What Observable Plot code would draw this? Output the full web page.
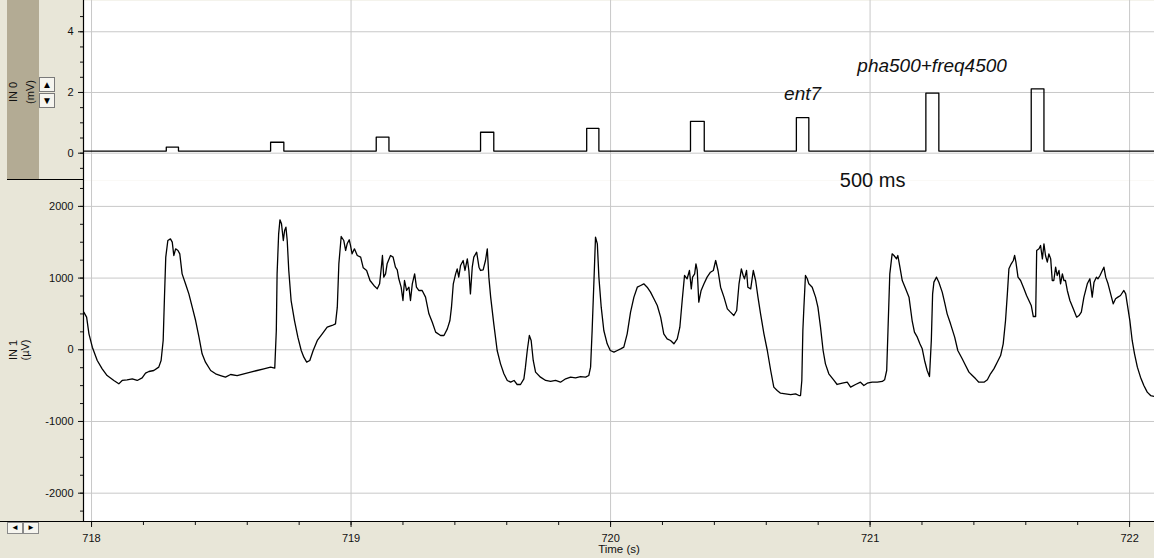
<!DOCTYPE html>
<html>
<head>
<meta charset="utf-8">
<script src="https://cdn.jsdelivr.net/npm/d3@7"></script>
<script src="https://cdn.jsdelivr.net/npm/@observablehq/plot@0.6"></script>
<style>
html, body { margin: 0; padding: 0; background: #fff; }
#wrap { position: relative; width: 1154px; height: 558px; background: #E8E6D8; overflow: hidden; font-family: "Liberation Sans", Arial, sans-serif; }
#strip { position: absolute; left: 7px; top: 0; width: 32px; height: 179px; background: #B3AB94; }
#sep { position: absolute; left: 7px; top: 179px; width: 77px; height: 1px; background: #000; }
#xline { position: absolute; left: 0; top: 521px; width: 84px; height: 1px; background: #000; }
#top, #bot { position: absolute; left: 0; }
#top { top: 0; }
#bot { top: 180px; }
.ylab { position: absolute; transform: translate(-50%, -50%) rotate(-90deg); text-align: center; font-size: 11px; color: #111; white-space: nowrap; }
.spin { position: absolute; width: 15px; }
.spin div { width: 14px; height: 13px; border: 1px solid #7a7a7a; background: #F6F5EF; font-size: 10px; line-height: 13px; text-align: center; color: #000; margin-bottom: 1px; }
.nav { position: absolute; left: 7px; top: 522px; display: flex; }
.nav div { width: 14px; height: 10px; border: 1px solid #8a8a8a; background: #F6F5EF; font-size: 8px; line-height: 10px; text-align: center; color: #000; }
</style>
</head>
<body>
<div id="wrap">
  <div id="strip"></div>
  <div id="top"></div>
  <div id="bot"></div>
  <div id="sep"></div>
  <div id="xline"></div>
  <div class="ylab" style="left:22px; top:92px; line-height:17px;">IN 0<br>(mV)</div>
  <div class="ylab" style="left:19px; top:350px; line-height:12px;">IN 1<br>(µV)</div>
  <div class="spin" style="left:39px; top:77px;"><div>▲</div><div>▼</div></div>
  <div class="nav"><div>◄</div><div>►</div></div>
</div>
<script>
// ---------- data ----------
// x range shown (s)
const timeDomain = [717.969, 722.096];
const timeTicks = [718, 719, 720, 721, 722];

// IN 0 (mV): stimulus pulses
const in0Domain = [-0.90, 5.03];
const in0Ticks = [0, 2, 4];
const in0Baseline = 0.07;
const pulseOn  = [718.288, 718.690, 719.097, 719.499, 719.908, 720.308, 720.716, 721.215, 721.621];
const pulseOff = [718.335, 718.741, 719.146, 719.550, 719.955, 720.361, 720.764, 721.265, 721.670];
const pulseAmp = [0.20, 0.36, 0.53, 0.69, 0.82, 1.05, 1.17, 1.98, 2.12];

// IN 1 (µV): recorded trace
const in1Domain = [-2395, 2361];
const in1Ticks = [-2000, -1000, 0, 1000, 2000];
const timeSec = [
  717.970, 717.981, 717.990, 718.003, 718.022, 718.041, 718.060, 718.086, 718.105, 718.118,
  718.137, 718.157, 718.176, 718.195, 718.208, 718.221, 718.240, 718.259, 718.268, 718.276,
  718.281, 718.286, 718.294, 718.304, 718.311, 718.317, 718.324, 718.333, 718.340, 718.349,
  718.362, 718.375, 718.388, 718.401, 718.414, 718.426, 718.439, 718.459, 718.478, 718.497,
  718.516, 718.536, 718.561, 718.587, 718.613, 718.638, 718.664, 718.690, 718.706, 718.712,
  718.715, 718.721, 718.726, 718.732, 718.739, 718.744, 718.749, 718.754, 718.760, 718.769,
  718.782, 718.795, 718.808, 718.818, 718.829, 718.841, 718.854, 718.870, 718.889, 718.908,
  718.927, 718.940, 718.947, 718.953, 718.962, 718.972, 718.979, 718.985, 718.993, 718.998,
  719.004, 719.013, 719.024, 719.037, 719.047, 719.060, 719.073, 719.088, 719.101, 719.110,
  719.118, 719.121, 719.126, 719.133, 719.139, 719.152, 719.162, 719.171, 719.178, 719.184,
  719.193, 719.200, 719.206, 719.214, 719.223, 719.229, 719.236, 719.245, 719.252, 719.261,
  719.274, 719.287, 719.300, 719.313, 719.326, 719.345, 719.358, 719.371, 719.381, 719.387,
  719.394, 719.403, 719.409, 719.415, 719.422, 719.432, 719.439, 719.448, 719.454, 719.460,
  719.467, 719.473, 719.484, 719.493, 719.499, 719.509, 719.518, 719.525, 719.531, 719.538,
  719.550, 719.563, 719.576, 719.589, 719.602, 719.615, 719.628, 719.640, 719.653, 719.666,
  719.672, 719.679, 719.687, 719.694, 719.702, 719.711, 719.730, 719.750, 719.769, 719.788,
  719.807, 719.827, 719.846, 719.865, 719.884, 719.904, 719.916, 719.923, 719.929, 719.936,
  719.942, 719.949, 719.955, 719.964, 719.974, 719.987, 719.999, 720.013, 720.026, 720.039,
  720.051, 720.064, 720.077, 720.090, 720.103, 720.116, 720.128, 720.141, 720.154, 720.167,
  720.180, 720.193, 720.205, 720.218, 720.231, 720.244, 720.257, 720.267, 720.276, 720.285,
  720.295, 720.304, 720.311, 720.316, 720.324, 720.329, 720.334, 720.340, 720.349, 720.360,
  720.372, 720.385, 720.396, 720.405, 720.414, 720.424, 720.437, 720.450, 720.462, 720.475,
  720.486, 720.495, 720.504, 720.511, 720.516, 720.524, 720.529, 720.540, 720.550, 720.559,
  720.568, 720.578, 720.591, 720.604, 720.617, 720.629, 720.642, 720.655, 720.674, 720.694,
  720.713, 720.726, 720.732, 720.737, 720.741, 720.745, 720.751, 720.758, 720.764, 720.777,
  720.790, 720.799, 720.809, 720.819, 720.828, 720.841, 720.861, 720.873, 720.893, 720.912,
  720.925, 720.944, 720.963, 720.976, 720.989, 721.008, 721.028, 721.047, 721.056, 721.064,
  721.069, 721.076, 721.085, 721.092, 721.102, 721.107, 721.115, 721.124, 721.137, 721.150,
  721.162, 721.171, 721.182, 721.192, 721.201, 721.210, 721.220, 721.229, 721.236, 721.241,
  721.246, 721.256, 721.265, 721.278, 721.287, 721.297, 721.310, 721.326, 721.338, 721.355,
  721.368, 721.381, 721.394, 721.407, 721.419, 721.439, 721.452, 721.464, 721.477, 721.490,
  721.503, 721.513, 721.522, 721.529, 721.535, 721.544, 721.552, 721.557, 721.562, 721.570,
  721.580, 721.593, 721.603, 721.612, 721.621, 721.629, 721.638, 721.642, 721.651, 721.657,
  721.664, 721.670, 721.676, 721.683, 721.689, 721.696, 721.702, 721.708, 721.715, 721.721,
  721.728, 721.734, 721.741, 721.747, 721.753, 721.760, 721.770, 721.783, 721.796, 721.805,
  721.814, 721.824, 721.837, 721.847, 721.856, 721.863, 721.872, 721.878, 721.886, 721.895,
  721.901, 721.908, 721.917, 721.927, 721.937, 721.946, 721.955, 721.965, 721.978, 721.985,
  721.991, 722.001, 722.010, 722.019, 722.030, 722.042, 722.055, 722.068, 722.081, 722.096
];
const in1uV = [
  525, 455, 222, 36, -149, -266, -359, -428, -475, -428,
  -419, -405, -428, -391, -326, -303, -289, -242, -149, 130,
  734, 1292, 1524, 1547, 1501, 1315, 1408, 1385, 1338, 1059,
  920, 780, 594, 408, 176, -57, -173, -289, -335, -359,
  -382, -345, -359, -335, -312, -289, -266, -242, -256, 269,
  1059, 1617, 1812, 1757, 1524, 1664, 1710, 1524, 1106, 687,
  408, 176, -10, -103, -173, -149, -10, 130, 222, 315,
  339, 362, 594, 1199, 1580, 1524, 1385, 1478, 1534, 1454,
  1338, 1408, 1315, 1292, 1143, 1106, 966, 897, 850, 920,
  1199, 1315, 1013, 1059, 1199, 1315, 1292, 1152, 1115, 990,
  873, 687, 966, 827, 873, 687, 920, 1059, 873, 827,
  827, 734, 501, 385, 246, 199, 199, 292, 408, 594,
  920, 1059, 1129, 1013, 1176, 1245, 1106, 1268, 1106, 780,
  1152, 1292, 1361, 1152, 1106, 1115, 1245, 1408, 1013, 734,
  362, -10, -196, -335, -428, -452, -428, -484, -484, -405,
  -242, -10, 199, 130, -149, -312, -382, -428, -442, -428,
  -452, -405, -382, -391, -373, -382, -359, -242, 269, 966,
  1571, 1478, 1013, 594, 269, 83, -10, -33, -10, 13,
  37, 222, 525, 734, 873, 897, 920, 873, 804, 711,
  618, 455, 222, 153, 130, 83, 153, 315, 687, 1036,
  990, 1106, 850, 1013, 1059, 1199, 1106, 664, 827, 920,
  1013, 1082, 1106, 1245, 1106, 873, 734, 571, 525, 478,
  548, 920, 1129, 1036, 990, 1106, 873, 850, 1106, 966,
  734, 501, 222, -10, -289, -521, -568, -605, -614, -624,
  -614, -638, -638, -428, 269, 594, 1036, 990, 920, 873,
  734, 594, 315, -10, -196, -335, -428, -484, -466, -452,
  -521, -484, -452, -498, -466, -452, -452, -442, -419, -289,
  269, 1059, 1338, 1315, 1268, 1315, 1152, 966, 850, 734,
  408, 246, 176, 83, 13, -149, -289, -373, 130, 780,
  943, 1013, 943, 804, 664, 501, 362, 176, -10, -126,
  -219, -312, -359, -405, -452, -452, -419, -335, -266, -173,
  -80, 83, 408, 780, 1129, 1199, 1245, 1315, 1222, 1013,
  966, 850, 757, 687, 618, 464, 464, 1385, 1408, 1454,
  1268, 1478, 1315, 1222, 1338, 1268, 966, 966, 1152, 1036,
  1106, 920, 1059, 966, 966, 827, 687, 571, 455, 478,
  525, 734, 920, 990, 734, 943, 1013, 990, 1036, 1106,
  1152, 1013, 920, 780, 641, 711, 734, 757, 827, 780,
  641, 408, 130, -57, -242, -382, -498, -591, -638, -652
];

// annotations
const notes0 = [
  {t: 720.740, v: 1.955, label: "ent7"},
  {t: 721.239, v: 2.88, label: "pha500+freq4500"}
];
const notes1 = [{t: 721.010, v: 2360, label: "500 ms"}];

// ---------- derived tables ----------
const trace = d3.zip(timeSec, in1uV).map(([t, v]) => ({t, v}));
const pulseLine = [{t: timeDomain[0], v: in0Baseline}];
pulseOn.forEach((on, i) => {
  pulseLine.push({t: on, v: in0Baseline}, {t: on, v: pulseAmp[i]},
                 {t: pulseOff[i], v: pulseAmp[i]}, {t: pulseOff[i], v: in0Baseline});
});
pulseLine.push({t: timeDomain[1], v: in0Baseline});

const grid = "#c8c8c8";
const fmt = d => String(d);
const baseStyle = {background: "transparent", overflow: "visible", fontFamily: "'Liberation Sans', Arial, sans-serif", fontSize: "11px", color: "#111"};
const minorX = d3.range(718, 722.05, 0.2);

// ---------- top panel ----------
const topPlot = Plot.plot({
  width: 1154, height: 180,
  marginLeft: 83, marginRight: 0, marginTop: 0, marginBottom: 0,
  style: baseStyle,
  x: {domain: timeDomain, axis: null},
  y: {domain: in0Domain, axis: null},
  marks: [
    Plot.frame({fill: "white", stroke: null}),
    Plot.ruleX(timeTicks, {stroke: grid}),
    Plot.ruleY(in0Ticks, {stroke: grid}),
    Plot.line(pulseLine, {x: "t", y: "v", stroke: "#000", strokeWidth: 1.3, curve: "linear"}),
    Plot.axisY({ticks: in0Ticks, tickSize: 5, tickPadding: 5, tickFormat: fmt, label: null}),
    Plot.axisY({ticks: d3.range(-0.5, 5, 0.5), tickSize: 3, text: null, label: null}),
    Plot.ruleX([timeDomain[0]], {stroke: "#000", strokeWidth: 1.2}),
    Plot.text(notes0, {x: "t", y: "v", text: "label", fontSize: 19, fontStyle: "italic", fill: "#111"})
  ]
});
document.getElementById("top").append(topPlot);

// ---------- bottom panel ----------
const botPlot = Plot.plot({
  width: 1154, height: 378,
  marginLeft: 83, marginRight: 0, marginTop: 0, marginBottom: 37,
  style: baseStyle,
  x: {domain: timeDomain, axis: null},
  y: {domain: in1Domain, axis: null},
  marks: [
    Plot.frame({fill: "white", stroke: null}),
    Plot.ruleX(timeTicks, {stroke: grid}),
    Plot.ruleY(in1Ticks, {stroke: grid}),
    Plot.line(trace, {x: "t", y: "v", stroke: "#000", strokeWidth: 1.3, curve: "linear"}),
    Plot.axisY({ticks: in1Ticks, tickSize: 5, tickPadding: 5, tickFormat: fmt, label: null}),
    Plot.axisY({ticks: d3.range(-2250, 2400, 250), tickSize: 3, text: null, label: null}),
    Plot.axisX({ticks: timeTicks, tickSize: 6, tickPadding: 7, tickFormat: fmt, label: null}),
    Plot.axisX({ticks: minorX, tickSize: 4, text: null, label: null}),
    Plot.ruleX([timeDomain[0]], {stroke: "#000", strokeWidth: 1.2}),
    Plot.ruleY([in1Domain[0]], {stroke: "#000", strokeWidth: 1.2}),
    Plot.text(notes1, {x: "t", y: "v", text: "label", fontSize: 20, fill: "#111"}),
    Plot.text(["Time (s)"], {frameAnchor: "bottom", dy: 31, fontSize: 11.5, fill: "#111"})
  ]
});
document.getElementById("bot").append(botPlot);
</script>
</body>
</html>
